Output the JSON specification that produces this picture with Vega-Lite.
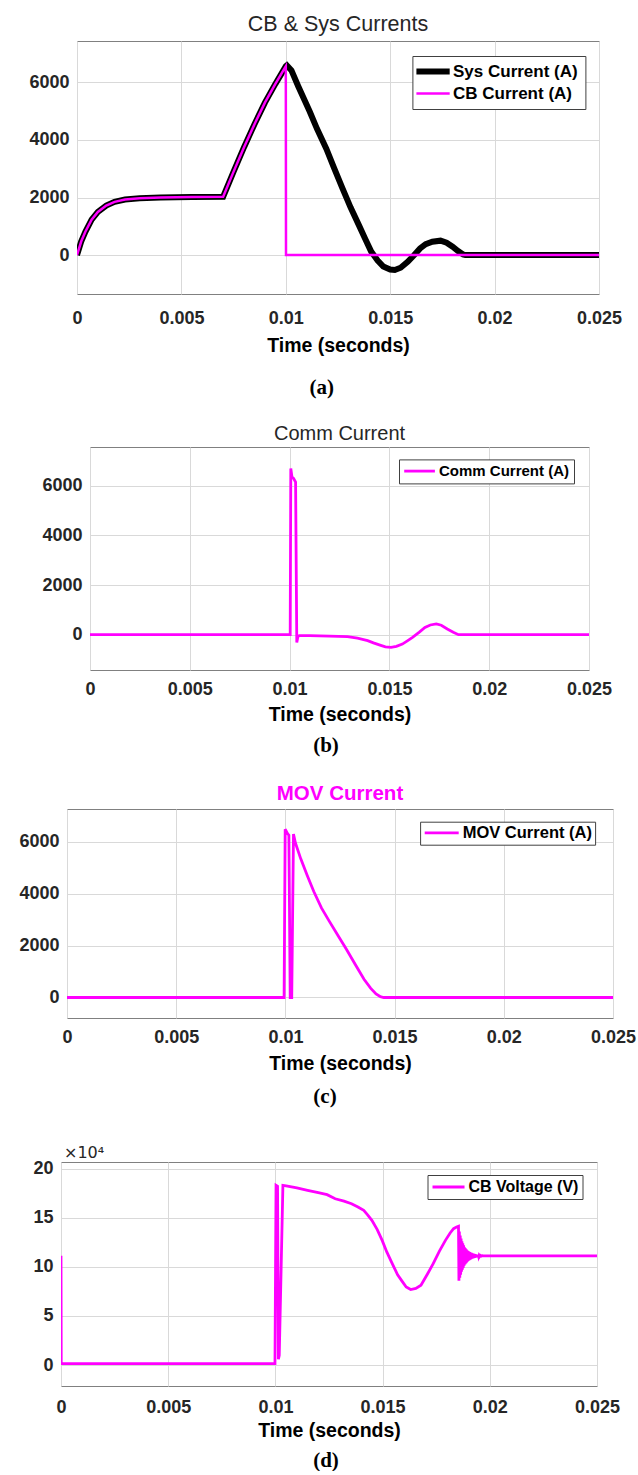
{
  "$schema": "https://vega.github.io/schema/vega-lite/v6.json",
  "padding": {"left": 0, "top": 13, "right": 0, "bottom": 0},
  "background": "#ffffff",
  "config": {
    "font": "Liberation Sans",
    "view": {"stroke": "#808080", "strokeWidth": 1},
    "axis": {
      "ticks": false, "tickSize": 0, "domain": false, "grid": true,
      "gridColor": "#d9d9d9", "gridWidth": 1,
      "labelFont": "Liberation Sans", "labelFontWeight": "bold", "labelFontSize": 18,
      "labelColor": "#262626", "labelFlush": false, "labelOverlap": false, "labelPadding": 8,
      "titleFont": "Liberation Sans", "titleFontWeight": "bold", "titleFontSize": 19.5, "titleColor": "#000000"
    },
    "legend": {
      "labelFont": "Liberation Sans", "labelFontWeight": "bold", "labelColor": "#000000",
      "strokeColor": "#404040", "fillColor": "#ffffff"
    }
  },
  "datasets": {
    "sys": [
      {"t": 0, "v": 0}, {"t": 0.0002, "v": 470}, {"t": 0.0004, "v": 810}, {"t": 0.0007, "v": 1230},
      {"t": 0.001, "v": 1500}, {"t": 0.0014, "v": 1720}, {"t": 0.0018, "v": 1850}, {"t": 0.0023, "v": 1930},
      {"t": 0.003, "v": 1975}, {"t": 0.004, "v": 2000}, {"t": 0.0055, "v": 2015}, {"t": 0.007, "v": 2030},
      {"t": 0.0075, "v": 2900}, {"t": 0.008, "v": 3750}, {"t": 0.0085, "v": 4550}, {"t": 0.009, "v": 5300},
      {"t": 0.0095, "v": 5950}, {"t": 0.01, "v": 6560}, {"t": 0.01005, "v": 6590}, {"t": 0.01027, "v": 6420},
      {"t": 0.0106, "v": 5860}, {"t": 0.0109, "v": 5380}, {"t": 0.01115, "v": 4980}, {"t": 0.0115, "v": 4380},
      {"t": 0.01194, "v": 3700}, {"t": 0.0123, "v": 3050}, {"t": 0.01272, "v": 2310}, {"t": 0.0131, "v": 1660},
      {"t": 0.0135, "v": 1040}, {"t": 0.0138, "v": 570}, {"t": 0.01409, "v": 120}, {"t": 0.0144, "v": -190},
      {"t": 0.01467, "v": -400}, {"t": 0.015, "v": -505}, {"t": 0.01522, "v": -520}, {"t": 0.0155, "v": -440},
      {"t": 0.01585, "v": -230}, {"t": 0.01615, "v": 0}, {"t": 0.01643, "v": 230}, {"t": 0.0167, "v": 380},
      {"t": 0.01702, "v": 465}, {"t": 0.01741, "v": 500}, {"t": 0.0177, "v": 430}, {"t": 0.01799, "v": 290},
      {"t": 0.01825, "v": 140}, {"t": 0.01849, "v": 20}, {"t": 0.0186, "v": 0}, {"t": 0.025, "v": 0}
    ],
    "cb": [
      {"t": 0, "v": 0}, {"t": 0.0002, "v": 470}, {"t": 0.0004, "v": 810}, {"t": 0.0007, "v": 1230},
      {"t": 0.001, "v": 1500}, {"t": 0.0014, "v": 1720}, {"t": 0.0018, "v": 1850}, {"t": 0.0023, "v": 1930},
      {"t": 0.003, "v": 1975}, {"t": 0.004, "v": 2000}, {"t": 0.0055, "v": 2015}, {"t": 0.007, "v": 2030},
      {"t": 0.0075, "v": 2900}, {"t": 0.008, "v": 3750}, {"t": 0.0085, "v": 4550}, {"t": 0.009, "v": 5300},
      {"t": 0.0095, "v": 5950}, {"t": 0.01, "v": 6560}, {"t": 0.01001, "v": 0}, {"t": 0.025, "v": 0}
    ],
    "comm": [
      {"t": 0, "v": 0}, {"t": 0.01003, "v": 0}, {"t": 0.01006, "v": 6700}, {"t": 0.01012, "v": 6350},
      {"t": 0.0102, "v": 6300}, {"t": 0.0103, "v": 6150}, {"t": 0.01036, "v": -320}, {"t": 0.01042, "v": -60},
      {"t": 0.0105, "v": -40}, {"t": 0.011, "v": -40}, {"t": 0.012, "v": -60}, {"t": 0.0129, "v": -80},
      {"t": 0.0134, "v": -140}, {"t": 0.01391, "v": -240}, {"t": 0.0142, "v": -330}, {"t": 0.01453, "v": -420},
      {"t": 0.0148, "v": -490}, {"t": 0.01508, "v": -510}, {"t": 0.01535, "v": -470}, {"t": 0.01565, "v": -380},
      {"t": 0.0159, "v": -250}, {"t": 0.01616, "v": -110}, {"t": 0.0165, "v": 100}, {"t": 0.01678, "v": 290},
      {"t": 0.01705, "v": 390}, {"t": 0.01735, "v": 430}, {"t": 0.0176, "v": 380}, {"t": 0.0179, "v": 230},
      {"t": 0.0182, "v": 100}, {"t": 0.01846, "v": 0}, {"t": 0.025, "v": 0}
    ],
    "mov": [
      {"t": 0, "v": 0}, {"t": 0.00994, "v": 0}, {"t": 0.00999, "v": 6480}, {"t": 0.0101, "v": 6310},
      {"t": 0.01016, "v": 6250}, {"t": 0.01022, "v": 0}, {"t": 0.01029, "v": 0}, {"t": 0.01037, "v": 6300},
      {"t": 0.01046, "v": 5950}, {"t": 0.0107, "v": 5350}, {"t": 0.011, "v": 4700}, {"t": 0.0113, "v": 4080},
      {"t": 0.01165, "v": 3450}, {"t": 0.012, "v": 2950}, {"t": 0.0124, "v": 2400}, {"t": 0.0128, "v": 1850},
      {"t": 0.0132, "v": 1270}, {"t": 0.0136, "v": 700}, {"t": 0.0139, "v": 360}, {"t": 0.01415, "v": 140},
      {"t": 0.01435, "v": 30}, {"t": 0.0145, "v": 0}, {"t": 0.025, "v": 0}
    ],
    "cbv": [
      {"t": 0, "v": 111300}, {"t": 0.00001, "v": 1500}, {"t": 0.00998, "v": 1500}, {"t": 0.01003, "v": 183000},
      {"t": 0.0101, "v": 182000}, {"t": 0.01014, "v": 6000}, {"t": 0.01018, "v": 10000}, {"t": 0.01035, "v": 183000},
      {"t": 0.0105, "v": 182500}, {"t": 0.011, "v": 180500}, {"t": 0.0115, "v": 178000}, {"t": 0.012, "v": 175500},
      {"t": 0.01241, "v": 173500}, {"t": 0.01279, "v": 169400}, {"t": 0.0132, "v": 167000}, {"t": 0.01355, "v": 164300},
      {"t": 0.01385, "v": 161000}, {"t": 0.01412, "v": 157500}, {"t": 0.0143, "v": 153000}, {"t": 0.0145, "v": 147400},
      {"t": 0.01475, "v": 138000}, {"t": 0.01498, "v": 127000}, {"t": 0.0152, "v": 115000}, {"t": 0.01545, "v": 103300},
      {"t": 0.0157, "v": 92000}, {"t": 0.01593, "v": 84700}, {"t": 0.0161, "v": 79500}, {"t": 0.01631, "v": 76900},
      {"t": 0.01655, "v": 78000}, {"t": 0.01679, "v": 81300}, {"t": 0.0171, "v": 93000}, {"t": 0.01736, "v": 103300},
      {"t": 0.01765, "v": 116000}, {"t": 0.01793, "v": 127000}, {"t": 0.01815, "v": 134500}, {"t": 0.01831, "v": 138900},
      {"t": 0.01845, "v": 140500}, {"t": 0.01854, "v": 141300},
      {"t": 0.01856, "v": 86000}, {"t": 0.01858, "v": 136000}, {"t": 0.0186, "v": 89000}, {"t": 0.01862, "v": 132000},
      {"t": 0.01864, "v": 92000}, {"t": 0.01866, "v": 129000}, {"t": 0.01868, "v": 95000}, {"t": 0.0187, "v": 126000},
      {"t": 0.01872, "v": 97000}, {"t": 0.01874, "v": 124000}, {"t": 0.01876, "v": 99000}, {"t": 0.01878, "v": 122000},
      {"t": 0.0188, "v": 101000}, {"t": 0.01882, "v": 120000}, {"t": 0.01884, "v": 102500}, {"t": 0.01886, "v": 119000},
      {"t": 0.01888, "v": 103500}, {"t": 0.0189, "v": 118000}, {"t": 0.01892, "v": 104500}, {"t": 0.01894, "v": 117000},
      {"t": 0.01896, "v": 105500}, {"t": 0.01898, "v": 116200}, {"t": 0.019, "v": 106200}, {"t": 0.01902, "v": 115600},
      {"t": 0.01904, "v": 106800}, {"t": 0.01906, "v": 115000}, {"t": 0.01908, "v": 107400}, {"t": 0.0191, "v": 114600},
      {"t": 0.01912, "v": 107900}, {"t": 0.01914, "v": 114200}, {"t": 0.01916, "v": 108300}, {"t": 0.01918, "v": 113800},
      {"t": 0.0192, "v": 108700}, {"t": 0.01922, "v": 113500}, {"t": 0.01924, "v": 109000}, {"t": 0.01926, "v": 113200},
      {"t": 0.01928, "v": 109300}, {"t": 0.0193, "v": 112900}, {"t": 0.01932, "v": 109600}, {"t": 0.01934, "v": 112600},
      {"t": 0.01936, "v": 109800}, {"t": 0.01938, "v": 112400}, {"t": 0.0194, "v": 110000}, {"t": 0.01942, "v": 112200},
      {"t": 0.01944, "v": 110200}, {"t": 0.01946, "v": 112000}, {"t": 0.01948, "v": 110400}, {"t": 0.0195, "v": 111800},
      {"t": 0.01953, "v": 110700}, {"t": 0.01956, "v": 111600}, {"t": 0.0196, "v": 111000}, {"t": 0.01965, "v": 111400},
      {"t": 0.0197, "v": 111300}, {"t": 0.025, "v": 111300}
    ]
  },
  "spacing": 26,
  "resolve": {"scale": {"x": "independent", "y": "independent", "color": "independent"}, "legend": {"color": "independent"}},
  "vconcat": [
    {
      "spacing": 25,
      "resolve": {"scale": {"x": "independent", "y": "independent", "color": "independent"}, "legend": {"color": "independent"}},
      "vconcat": [
        {
          "spacing": 0,
          "resolve": {"scale": {"x": "independent", "y": "independent", "color": "independent"}, "legend": {"color": "independent"}},
          "title": {"text": "(a)", "orient": "bottom", "anchor": "start", "align": "center", "frame": "bounds", "dx": 321.7, "offset": 21, "baseline": "top", "font": "Liberation Serif", "fontSize": 21, "fontWeight": "bold", "color": "#000000"},
          "hconcat": [
            {"width": 28, "height": 1, "data": {"values": []}, "mark": {"type": "point", "opacity": 0}, "view": {"stroke": null}},
            {
              "width": 522, "height": 253,
              "title": {"text": "CB & Sys Currents", "frame": "group", "anchor": "middle", "baseline": "alphabetic", "offset": -11.4, "font": "Liberation Sans", "fontSize": 21.5, "fontWeight": "normal", "color": "#262626"},
              "encoding": {
                "x": {"field": "t", "type": "quantitative", "scale": {"domain": [0, 0.025], "nice": false, "zero": false},
                      "axis": {"values": [0, 0.005, 0.01, 0.015, 0.02, 0.025], "format": "~g", "title": "Time (seconds)", "labelPadding": 15, "titlePadding": 9.5}},
                "y": {"field": "v", "type": "quantitative", "scale": {"domain": [-1354, 7441], "nice": false, "zero": false},
                      "axis": {"values": [0, 2000, 4000, 6000], "format": "d", "title": null}}
              },
              "layer": [
                {
                  "data": {"name": "sys"},
                  "mark": {"type": "line", "strokeWidth": 6, "clip": true},
                  "encoding": {
                    "color": {"datum": "Sys Current (A)",
                      "scale": {"domain": ["Sys Current (A)", "CB Current (A)"], "range": ["#000000", "#ff00ff"]},
                      "legend": {"orient": "none", "legendX": 335.4, "legendY": 15, "title": null, "padding": 7, "rowPadding": 0,
                        "symbolType": "M-2.09,0H3.96", "symbolSize": 121, "symbolStrokeWidth": 2.5, "labelOffset": 16.6, "labelFontSize": 17,
                        "encode": {"symbols": {"update": {"strokeWidth": {"signal": "datum.value === 'Sys Current (A)' ? 6 : 2.5"}}}}}}
                  }
                },
                {
                  "data": {"name": "cb"},
                  "mark": {"type": "line", "strokeWidth": 2.5, "clip": true},
                  "encoding": {"color": {"datum": "CB Current (A)"}}
                }
              ]
            }
          ]
        },
        {
          "spacing": 0,
          "resolve": {"scale": {"x": "independent", "y": "independent", "color": "independent"}, "legend": {"color": "independent"}},
          "title": {"text": "(b)", "orient": "bottom", "anchor": "start", "align": "center", "frame": "bounds", "dx": 326, "offset": 11, "baseline": "top", "font": "Liberation Serif", "fontSize": 21, "fontWeight": "bold", "color": "#000000"},
          "hconcat": [
            {"width": 41, "height": 1, "data": {"values": []}, "mark": {"type": "point", "opacity": 0}, "view": {"stroke": null}},
            {
              "width": 499, "height": 223,
              "title": {"text": "Comm Current", "frame": "group", "anchor": "middle", "baseline": "alphabetic", "offset": -13.4, "font": "Liberation Sans", "fontSize": 20, "fontWeight": "normal", "color": "#262626"},
              "data": {"name": "comm"},
              "mark": {"type": "line", "strokeWidth": 2.8, "clip": true},
              "encoding": {
                "x": {"field": "t", "type": "quantitative", "scale": {"domain": [0, 0.025], "nice": false, "zero": false},
                      "axis": {"values": [0, 0.005, 0.01, 0.015, 0.02, 0.025], "format": "~g", "title": "Time (seconds)", "labelPadding": 10.6, "titlePadding": 6.7}},
                "y": {"field": "v", "type": "quantitative", "scale": {"domain": [-1425, 7565], "nice": false, "zero": false},
                      "axis": {"values": [0, 2000, 4000, 6000], "format": "d", "title": null}},
                "color": {"datum": "Comm Current (A)", "scale": {"range": ["#ff00ff"]},
                  "legend": {"orient": "none", "legendX": 309, "legendY": 12.4, "title": null, "padding": 4.2,
                    "symbolType": "M-1.18,0H4.4", "symbolSize": 121, "symbolStrokeWidth": 2.8, "labelOffset": 20.8, "labelFontSize": 15}}
              }
            }
          ]
        }
      ]
    },
    {
      "spacing": 36,
      "resolve": {"scale": {"x": "independent", "y": "independent", "color": "independent"}, "legend": {"color": "independent"}},
      "vconcat": [
        {
          "spacing": 0,
          "resolve": {"scale": {"x": "independent", "y": "independent", "color": "independent"}, "legend": {"color": "independent"}},
          "title": {"text": "(c)", "orient": "bottom", "anchor": "start", "align": "center", "frame": "bounds", "dx": 325, "offset": 12.5, "baseline": "top", "font": "Liberation Serif", "fontSize": 21, "fontWeight": "bold", "color": "#000000"},
          "hconcat": [
            {"width": 18, "height": 1, "data": {"values": []}, "mark": {"type": "point", "opacity": 0}, "view": {"stroke": null}},
            {
              "width": 546, "height": 209,
              "title": {"text": "MOV Current", "frame": "group", "anchor": "middle", "baseline": "alphabetic", "offset": -11.7, "font": "Liberation Sans", "fontSize": 20.5, "fontWeight": "bold", "color": "#ff00ff"},
              "data": {"name": "mov"},
              "mark": {"type": "line", "strokeWidth": 2.8, "clip": true},
              "encoding": {
                "x": {"field": "t", "type": "quantitative", "scale": {"domain": [0, 0.025], "nice": false, "zero": false},
                      "axis": {"values": [0, 0.005, 0.01, 0.015, 0.02, 0.025], "format": "~g", "title": "Time (seconds)", "labelPadding": 10, "titlePadding": 8.7}},
                "y": {"field": "v", "type": "quantitative", "scale": {"domain": [-790, 7260], "nice": false, "zero": false},
                      "axis": {"values": [0, 2000, 4000, 6000], "format": "d", "title": null}},
                "color": {"datum": "MOV Current (A)", "scale": {"range": ["#ff00ff"]},
                  "legend": {"orient": "none", "legendX": 353.1, "legendY": 12.7, "title": null, "padding": 2.9,
                    "symbolType": "M-1.19,0H4.99", "symbolSize": 121, "symbolStrokeWidth": 2.8, "labelOffset": 23.2, "labelFontSize": 16.5}}
              }
            }
          ]
        },
        {
          "spacing": 0,
          "resolve": {"scale": {"x": "independent", "y": "independent", "color": "independent"}, "legend": {"color": "independent"}},
          "title": {"text": "(d)", "orient": "bottom", "anchor": "start", "align": "center", "frame": "bounds", "dx": 326, "offset": 8.8, "baseline": "top", "font": "Liberation Serif", "fontSize": 21, "fontWeight": "bold", "color": "#000000"},
          "hconcat": [
            {"width": 32, "height": 1, "data": {"values": []}, "mark": {"type": "point", "opacity": 0}, "view": {"stroke": null}},
            {
              "width": 536, "height": 224,
              "data": {"name": "cbv"},
              "mark": {"type": "line", "strokeWidth": 2.8, "clip": true},
              "encoding": {
                "x": {"field": "t", "type": "quantitative", "scale": {"domain": [0, 0.025], "nice": false, "zero": false},
                      "axis": {"values": [0, 0.005, 0.01, 0.015, 0.02, 0.025], "format": "~g", "title": "Time (seconds)", "labelPadding": 12.3, "titlePadding": 5.4}},
                "y": {"field": "v", "type": "quantitative", "scale": {"domain": [-21300, 206800], "nice": false, "zero": false},
                      "axis": {"values": [0, 50000, 100000, 150000, 200000], "labelExpr": "format(datum.value / 10000, 'd')",
                        "title": "×10⁴", "titleAngle": 0, "titleAlign": "left", "titleBaseline": "alphabetic", "titleX": 2.5, "titleY": -4.2,
                        "titleFont": "DejaVu Sans", "titleFontWeight": "normal", "titleFontSize": 16, "titleColor": "#262626"}},
                "color": {"datum": "CB Voltage (V)", "scale": {"range": ["#ff00ff"]},
                  "legend": {"orient": "none", "legendX": 366.5, "legendY": 13, "title": null, "padding": 4,
                    "symbolType": "M-1.27,0H4.55", "symbolSize": 121, "symbolStrokeWidth": 2.8, "labelOffset": 21, "labelFontSize": 16}}
              }
            }
          ]
        }
      ]
    }
  ]
}
